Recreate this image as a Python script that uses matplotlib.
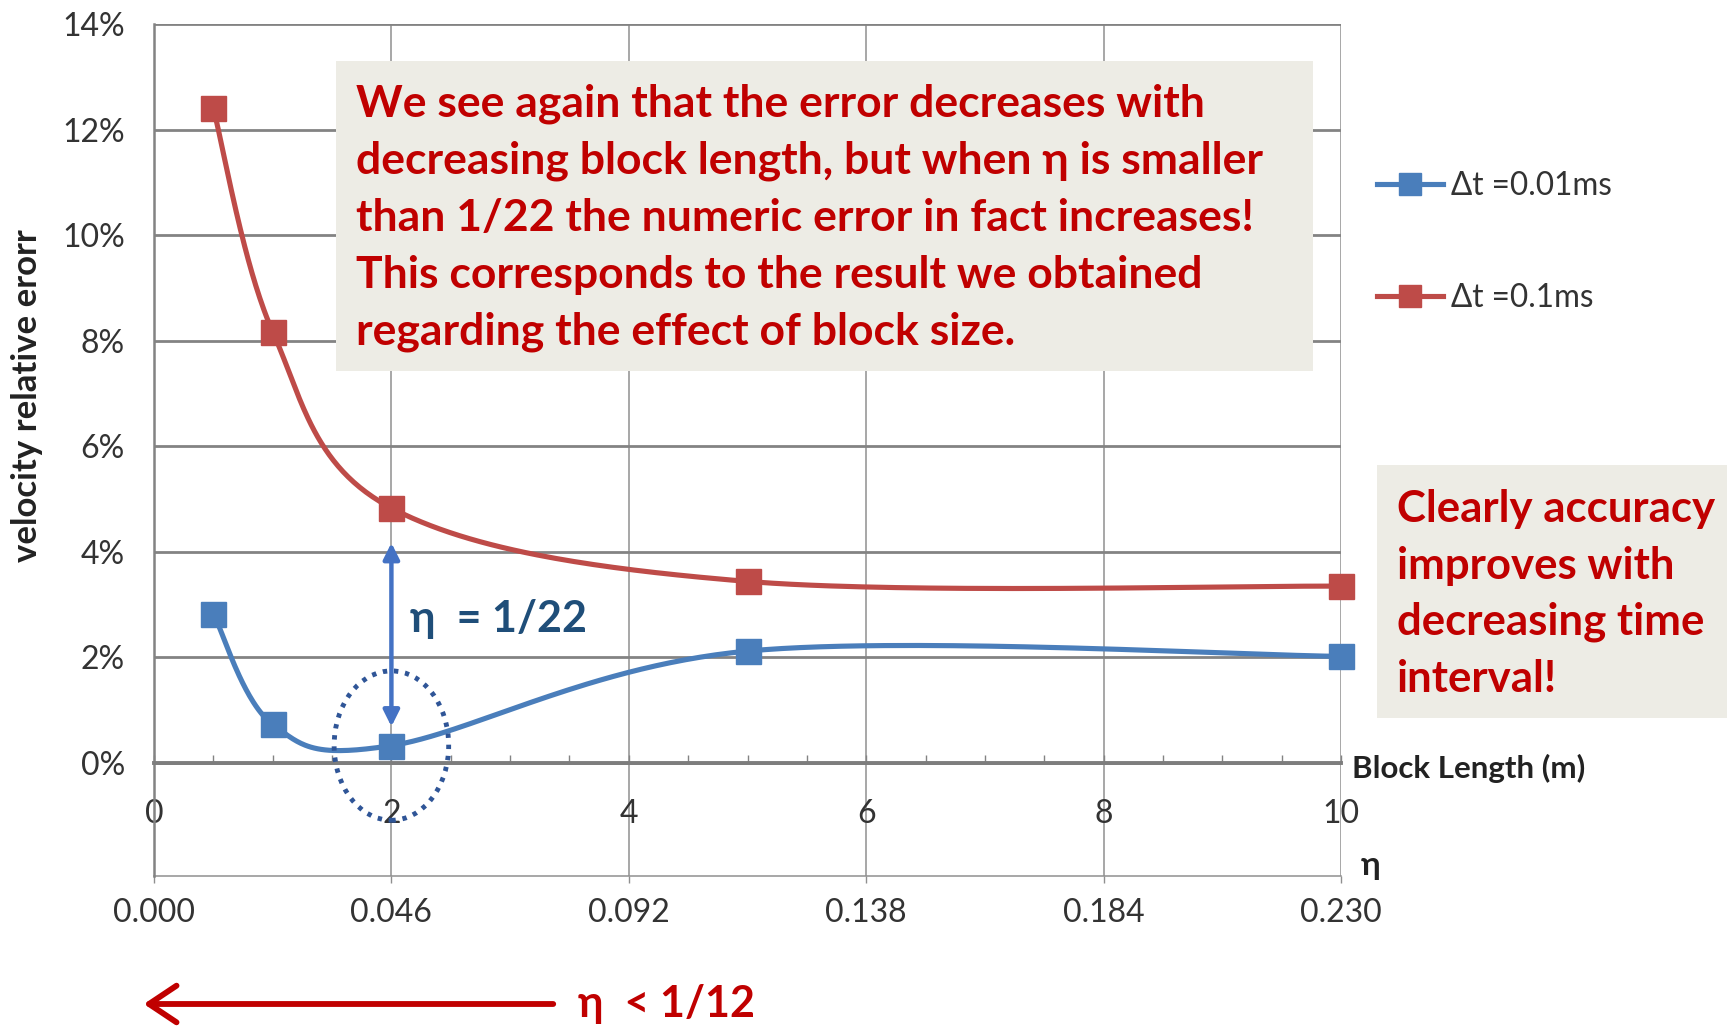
import numpy as np
import matplotlib.pyplot as plt
from matplotlib.patches import Ellipse, Rectangle, FancyArrowPatch
from matplotlib.ticker import MultipleLocator, FuncFormatter

W, H, DPI = 1727, 1029, 100

# block length (m) and velocity relative error (%) for the two time steps
block_length = [0.5, 1, 2, 5, 10]
err_dt_001 = [2.83, 0.73, 0.33, 2.12, 2.02]
err_dt_01 = [12.4, 8.17, 4.83, 3.44, 3.35]
labels = ["\u0394t =0.01ms", "\u0394t =0.1ms"]

x_ticks = [0, 2, 4, 6, 8, 10]
y_ticks = [0, 2, 4, 6, 8, 10, 12, 14]
eta_per_m = 0.023
eta_ticks = [0.000, 0.046, 0.092, 0.138, 0.184, 0.230]

eta_mark = 2.0             # block length where eta = 1/22
eta_arrow = (0.69, 4.17)   # span of the double arrow, %

BLUE = "#4a7ebb"
RED = "#be4b48"
TXT_RED = "#c00000"
TXT_BLUE = "#1f4e79"
GRID = "#838383"
BOX = "#edece5"

plt.rcParams["font.family"] = ["Lato", "DejaVu Sans"]


def fx(px):
    return px / W


def fy(py):
    return 1 - py / H


def excel_smooth(ax, xs, ys, n=60):
    """Bezier smoothing in display space, like a spreadsheet's smoothed line."""
    pts = ax.transData.transform(np.column_stack([xs, ys]))
    m = len(pts)
    out = [pts[0]]
    t = np.linspace(0, 1, n)[1:, None]
    for i in range(m - 1):
        p0, p1 = pts[max(i - 1, 0)], pts[i]
        p2, p3 = pts[i + 1], pts[min(i + 2, m - 1)]
        c1 = p1 + (p2 - p0) / 6
        c2 = p2 - (p3 - p1) / 6
        seg = (1 - t) ** 3 * p1 + 3 * (1 - t) ** 2 * t * c1 + 3 * (1 - t) * t ** 2 * c2 + t ** 3 * p2
        out.extend(seg)
    return ax.transData.inverted().transform(np.array(out)).T


fig = plt.figure(figsize=(W / DPI, H / DPI), dpi=DPI)
ax = fig.add_axes([fx(154), fy(876), fx(1341) - fx(154), fy(24) - fy(876)])
px_per_pct = (763 - 24) / 14
ax.set_xlim(0, 10)
ax.set_ylim(-(876 - 763) / px_per_pct, 14)

# grid
ax.set_xticks(x_ticks)
ax.set_yticks(y_ticks)
ax.xaxis.set_minor_locator(MultipleLocator(0.5))
ax.yaxis.grid(True, color=GRID, lw=2.0)
ax.xaxis.grid(True, color="#8f8f8f", lw=1.1)
ax.set_axisbelow(True)

for s in ("top", "right"):
    ax.spines[s].set_visible(False)
ax.spines["left"].set_color(GRID)
ax.spines["left"].set_linewidth(1.8)
ax.spines["bottom"].set_position(("data", 0))
ax.spines["bottom"].set_color("#7d7d7d")
ax.spines["bottom"].set_linewidth(2.8)

tick_font = dict(labelsize=23, labelcolor="#333333")
ax.tick_params(axis="x", which="major", direction="in", length=6, width=1, color=GRID, pad=26, **tick_font)
ax.tick_params(axis="x", which="minor", direction="in", length=6, width=1, color=GRID)
ax.tick_params(axis="y", length=0, pad=21, **tick_font)
ax.yaxis.set_major_formatter(FuncFormatter(lambda v, _: f"{v:.0f}%"))

# eta axis along the bottom
sec = ax.secondary_xaxis(0.0, functions=(lambda x: x * eta_per_m, lambda e: e / eta_per_m))
sec.set_xticks(eta_ticks)
sec.xaxis.set_major_formatter(FuncFormatter(lambda v, _: f"{v:.3f}"))
sec.spines["bottom"].set_color("#8f8f8f")
sec.spines["bottom"].set_linewidth(1.1)
sec.tick_params(direction="out", length=5, width=1, color="#8f8f8f", pad=11, **tick_font)

# smoothed series with square markers
for ys, c, lab in ((err_dt_001, BLUE, labels[0]), (err_dt_01, RED, labels[1])):
    sx, sy = excel_smooth(ax, block_length, ys)
    ax.plot(sx, sy, color=c, lw=3.7, zorder=3, solid_capstyle="round", clip_on=False)
    ax.plot(block_length, ys, ls="none", marker="s", ms=18, color=c, zorder=4, clip_on=False)
    ax.plot([], [], color=c, lw=3.7, marker="s", ms=16, label=lab)

# eta = 1/22 marker: double arrow and dotted ring
ax.annotate("", xy=(eta_mark, eta_arrow[0]), xytext=(eta_mark, eta_arrow[1]),
            arrowprops=dict(arrowstyle="<|-|>", color="#4472c4", lw=3.2, mutation_scale=24,
                            shrinkA=0, shrinkB=0), zorder=5)
ax.text(2.16, 2.72, "\u03b7  = 1/22", color=TXT_BLUE, fontsize=31, fontweight="bold",
        va="center", ha="left", zorder=5)
ax.add_patch(Ellipse((eta_mark, err_dt_001[2]), 0.965, 2.83, fill=False, ec="#2f5597",
                     lw=3.5, ls=(0, (0.9, 1.4)), zorder=5, clip_on=False))

fig.text(fx(27), fy(396), "velocity relative erorr", rotation=90, ha="center", va="center",
         fontsize=25, fontweight="bold", color="#222222")
fig.text(fx(1352), fy(768), "Block Length (m)", ha="left", va="center",
         fontsize=22.5, fontweight="bold", color="#222222")
fig.text(fx(1371), fy(865), "\u03b7", ha="center", va="center",
         fontsize=24, fontweight="bold", color="#222222")

fig.legend(loc="upper left", bbox_to_anchor=(fx(1377), fy(171)), frameon=False,
           fontsize=22.7, handlelength=2.1, handletextpad=0.25, labelspacing=2.6,
           borderpad=0, borderaxespad=0, labelcolor="#333333")

# callout boxes
fig.add_artist(Rectangle((fx(336), fy(371)), fx(1313) - fx(336), fy(61) - fy(371),
                         transform=fig.transFigure, fc=BOX, ec="none", zorder=6))
fig.text(fx(356), fy(218),
         "We see again that the error decreases with\n"
         "decreasing block length, but when \u03b7 is smaller\n"
         "than 1/22 the numeric error in fact increases!\n"
         "This corresponds to the result we obtained\n"
         "regarding the effect of block size.",
         ha="left", va="center", fontsize=32, fontweight="bold", color=TXT_RED,
         linespacing=1.51, zorder=7)

fig.add_artist(Rectangle((fx(1377), fy(718)), fx(1727) - fx(1377), fy(465) - fy(718),
                         transform=fig.transFigure, fc=BOX, ec="none", zorder=6))
fig.text(fx(1397), fy(594),
         "Clearly accuracy\nimproves with\ndecreasing time\ninterval!",
         ha="left", va="center", fontsize=31.5, fontweight="bold", color=TXT_RED,
         linespacing=1.5, zorder=7)

# small-eta direction arrow
fig.add_artist(FancyArrowPatch(
    (fx(556), fy(1004)), (fx(141), fy(1004)), transform=fig.transFigure,
    arrowstyle="->,head_length=0.9,head_width=0.6", mutation_scale=22,
    color=TXT_RED, lw=4.2, zorder=6))
fig.text(fx(578), fy(1004), "\u03b7  < 1/12", ha="left", va="center", fontsize=31,
         fontweight="bold", color=TXT_RED)

fig.savefig("out.png", dpi=DPI)
